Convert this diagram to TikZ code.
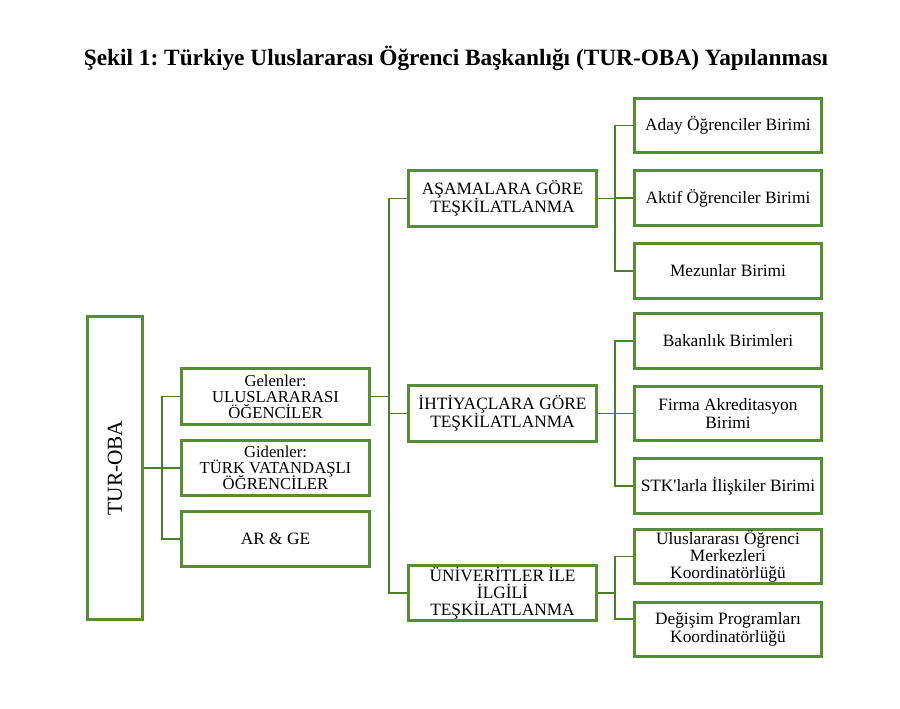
\documentclass[tikz,border=0pt]{standalone}
\usepackage{fontspec}
\setmainfont{Liberation Serif}
\definecolor{boxgreen}{RGB}{86,142,52}
\definecolor{linegreen}{RGB}{74,128,44}
\newcommand\mytightls{\lineskiplimit=-6pt\relax}
\begin{document}
\begin{tikzpicture}[x=0.75pt,y=-0.75pt,
  box/.style={draw=boxgreen,line width=2.2pt,fill=white,align=center,inner sep=1pt,
    font=\fontsize{13}{13.5}\selectfont\mytightls},
  midbox/.style={box,minimum width=141.5pt,minimum height=41.5pt},
  rbox/.style={box,minimum width=140.5pt,minimum height=41pt},
  conn/.style={draw=linegreen,line width=1.1pt}]
\useasboundingbox (0,0) rectangle (900,709);
\node[font=\fontsize{17.5}{20}\bfseries\frenchspacing] (title) at (456,58) {Şekil 1: Türkiye Uluslararası Öğrenci Başkanlığı (TUR-OBA) Yapılanması};
% left
\node[box,minimum width=41.5pt,minimum height=227pt] (tur) at (115,468) {};
\node[rotate=90,font=\fontsize{16}{18}\selectfont] (turt) at (tur.center) {TUR-OBA};
\node[midbox,font=\fontsize{12.5}{12}\selectfont\mytightls] (gel) at (275.5,396.5) {Gelenler:\\ULUSLARARASI\\ÖĞENCİLER};
\node[midbox,font=\fontsize{12.5}{12}\selectfont\mytightls] (gid) at (275.5,468) {Gidenler:\\TÜRK VATANDAŞLI\\ÖĞRENCİLER};
\node[midbox] (arge) at (275.5,539) {AR \& GE};
% middle
\node[midbox] (asa) at (502.5,198.5) {AŞAMALARA GÖRE\\TEŞKİLATLANMA};
\node[midbox] (iht) at (502.5,413.5) {İHTİYAÇLARA GÖRE\\TEŞKİLATLANMA};
\node[midbox,font=\fontsize{13}{12.8}\selectfont\mytightls] (uni) at (502.5,593) {ÜNİVERİTLER İLE\\İLGİLİ\\TEŞKİLATLANMA};
% right
\node[rbox] (aday) at (728,125.5) {Aday Öğrenciler Birimi};
\node[rbox] (aktif) at (728,198) {Aktif Öğrenciler Birimi};
\node[rbox] (mez) at (728,271) {Mezunlar Birimi};
\node[rbox] (bak) at (728,341) {Bakanlık Birimleri};
\node[rbox] (firma) at (728,413.5) {Firma Akreditasyon\\Birimi};
\node[rbox] (stk) at (728,486) {STK\textquotesingle larla İlişkiler Birimi};
\node[rbox,font=\fontsize{13}{12.8}\selectfont\mytightls] (ulu) at (728,556.5) {Uluslararası Öğrenci\\Merkezleri\\Koordinatörlüğü};
\node[rbox] (deg) at (728,629.5) {Değişim Programları\\Koordinatörlüğü};
% junction coordinates
\coordinate (j1) at (162,0);
\coordinate (t1) at (389,0);
\coordinate (t2) at (615,0);
% connectors left
\draw[conn] (tur.east) -- (gid.west);
\draw[conn] (gel.west) -- (gel.west -| j1) -- (arge.west -| j1) -- (arge.west);
% trunk
\draw[conn] (gel.east) -- (gel.east -| t1);
\draw[conn] (asa.west) -- (asa.west -| t1) -- (uni.west -| t1) -- (uni.west);
\draw[conn] (iht.west) -- (iht.west -| t1);
% right groups
\draw[conn] (asa.east) -- (asa.east -| t2);
\draw[conn] (aday.west) -- (aday.west -| t2) -- (mez.west -| t2) -- (mez.west);
\draw[conn] (aktif.west) -- (aktif.west -| t2);
\draw[conn] (iht.east) -- (iht.east -| t2);
\draw[conn] (bak.west) -- (bak.west -| t2) -- (stk.west -| t2) -- (stk.west);
\draw[conn] (firma.west) -- (firma.west -| t2);
\draw[conn] (uni.east) -- (uni.east -| t2);
\draw[conn] (ulu.west) -- (ulu.west -| t2) -- ([yshift=8pt]deg.west -| t2) -- ([yshift=8pt]deg.west);
\end{tikzpicture}
\end{document}
